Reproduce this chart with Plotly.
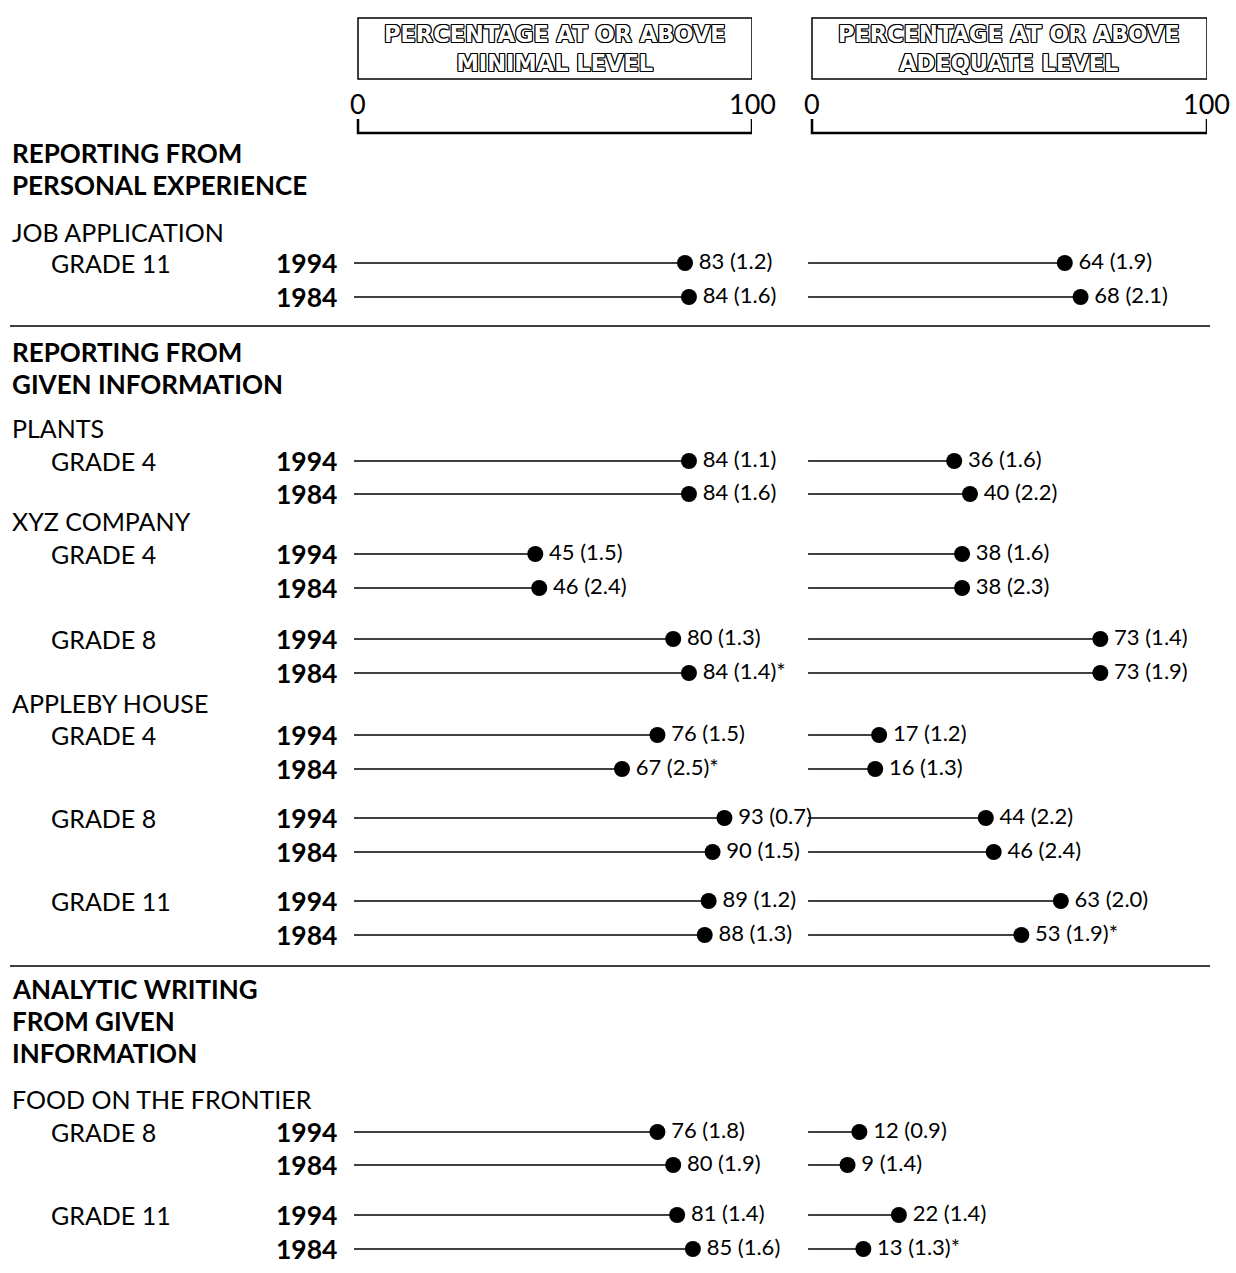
import plotly.graph_objects as go

# ---- data -------------------------------------------------------------
sections = [["REPORTING FROM", "PERSONAL EXPERIENCE"],
            ["REPORTING FROM", "GIVEN INFORMATION"],
            ["ANALYTIC WRITING", "FROM GIVEN", "INFORMATION"]]
tasks = ["JOB APPLICATION", "PLANTS", "XYZ COMPANY", "APPLEBY HOUSE",
         "FOOD ON THE FRONTIER"]
grades = ["GRADE 11", "GRADE 4", "GRADE 4", "GRADE 8", "GRADE 4", "GRADE 8",
          "GRADE 11", "GRADE 8", "GRADE 11"]
years = ["1994", "1984"] * 9

minimal = [83, 84, 84, 84, 45, 46, 80, 84, 76, 67, 93, 90, 89, 88, 76, 80, 81, 85]
minimal_se = [1.2, 1.6, 1.1, 1.6, 1.5, 2.4, 1.3, 1.4, 1.5, 2.5, 0.7, 1.5, 1.2, 1.3,
              1.8, 1.9, 1.4, 1.6]
minimal_sig = [0, 0, 0, 0, 0, 0, 0, 1, 0, 1, 0, 0, 0, 0, 0, 0, 0, 0]

adequate = [64, 68, 36, 40, 38, 38, 73, 73, 17, 16, 44, 46, 63, 53, 12, 9, 22, 13]
adequate_se = [1.9, 2.1, 1.6, 2.2, 1.6, 2.3, 1.4, 1.9, 1.2, 1.3, 2.2, 2.4, 2.0, 1.9,
               0.9, 1.4, 1.4, 1.3]
adequate_sig = [0, 0, 0, 0, 0, 0, 0, 0, 0, 0, 0, 0, 0, 1, 0, 0, 0, 1]

panel_titles = ["PERCENTAGE AT OR ABOVE<br>MINIMAL LEVEL",
                "PERCENTAGE AT OR ABOVE<br>ADEQUATE LEVEL"]
scale_ticks = [0, 100]

# ---- page layout (pixel rows, y measured downwards) ------------------
W, H = 1236, 1273
row_y = [263, 297, 461, 494, 554, 588, 639, 673, 735, 769, 818, 852, 901, 935,
         1132, 1165, 1215, 1249]
section_top = [153, 352, 989]
section_step = 32
task_y = [232, 428, 521, 703, 1099]
grade_y = [row_y[i] for i in range(0, 18, 2)]
separator_y = [326, 966]

FONT = "Lato"
BLACK = "#000000"
PAD = 1.0  # stems start slightly left of the zero mark


def px(x):
    return x / W


def value_text(v, se, sig):
    return f"\u2009{v} ({se}){'*' if sig else ''}"


fig = go.Figure()

for xa, vals, ses, sigs in [("x", minimal, minimal_se, minimal_sig),
                            ("x2", adequate, adequate_se, adequate_sig)]:
    lx, ly = [], []
    for v, y in zip(vals, row_y):
        lx += [-PAD, v, None]
        ly += [y, y, None]
    fig.add_trace(go.Scatter(x=lx, y=ly, xaxis=xa, yaxis="y", mode="lines",
                             line=dict(color=BLACK, width=1.6),
                             hoverinfo="skip", showlegend=False))
    fig.add_trace(go.Scatter(
        x=vals, y=row_y, xaxis=xa, yaxis="y", mode="markers+text",
        marker=dict(color=BLACK, size=16),
        text=[value_text(v, s, g) for v, s, g in zip(vals, ses, sigs)],
        textposition="middle right",
        textfont=dict(family=FONT, size=22, color=BLACK),
        cliponaxis=False,
        showlegend=False))

annotations = []
shapes = []

# panel headers, scale labels and brackets
outline = ("1px 0 0 #000, -1px 0 0 #000, 0 1px 0 #000, 0 -1px 0 #000, "
           "1px 1px 0 #000, -1px -1px 0 #000, 1px -1px 0 #000, -1px 1px 0 #000")
for xa, title in zip(["x", "x2"], panel_titles):
    shapes.append(dict(type="rect", xref=xa, yref="y", x0=0, x1=100, y0=18, y1=79,
                       line=dict(color=BLACK, width=1.5)))
    annotations.append(dict(xref=xa, yref="y", x=50, y=48, text=title,
                            showarrow=False, align="center",
                            font=dict(family="DejaVu Sans", size=22.5, color="white",
                                      weight="bold", shadow=outline)))
    for t in scale_ticks:
        annotations.append(dict(xref=xa, yref="y", x=t, y=103, text=str(t),
                                showarrow=False,
                                font=dict(family=FONT, size=27, color=BLACK)))
    shapes.append(dict(type="path", xref=xa, yref="y",
                       path=f"M {scale_ticks[0]},119 L {scale_ticks[0]},133 "
                            f"L {scale_ticks[1]},133 L {scale_ticks[1]},119",
                       line=dict(color=BLACK, width=2.5)))

# left-hand labels
for lines, y0 in zip(sections, section_top):
    for i, text in enumerate(lines):
        annotations.append(dict(xref="paper", yref="y", x=px(10),
                                y=y0 + i * section_step, text=text,
                                xanchor="left", showarrow=False,
                                font=dict(family=FONT, size=26, color=BLACK,
                                          weight="bold")))
for text, y in zip(tasks, task_y):
    annotations.append(dict(xref="paper", yref="y", x=px(10), y=y, text=text,
                            xanchor="left", showarrow=False,
                            font=dict(family=FONT, size=25, color=BLACK)))
for text, y in zip(grades, grade_y):
    annotations.append(dict(xref="paper", yref="y", x=px(49), y=y, text=text,
                            xanchor="left", showarrow=False,
                            font=dict(family=FONT, size=25, color=BLACK)))
for text, y in zip(years, row_y):
    annotations.append(dict(xref="paper", yref="y", x=px(339), y=y, text=text,
                            xanchor="right", showarrow=False,
                            font=dict(family=FONT, size=26.5, color=BLACK,
                                      weight="bold")))

for y in separator_y:
    shapes.append(dict(type="line", xref="paper", yref="y", x0=px(10), x1=px(1210),
                       y0=y, y1=y, line=dict(color=BLACK, width=1.5)))

# x scales: 0..100 mapped onto the bracketed spans, with a little room at the left
unit_l = (752 - 358) / 100
unit_r = (1207 - 812) / 100
fig.update_layout(
    width=W, height=H,
    margin=dict(l=0, r=0, t=0, b=0),
    paper_bgcolor="white", plot_bgcolor="white",
    xaxis=dict(visible=False, range=[-PAD, 100], fixedrange=True,
               domain=[px(358 - PAD * unit_l), px(752)]),
    xaxis2=dict(visible=False, range=[-PAD, 100], fixedrange=True,
                domain=[px(812 - PAD * unit_r), px(1207)]),
    yaxis=dict(visible=False, range=[H, 0], domain=[0, 1], fixedrange=True),
    annotations=annotations, shapes=shapes,
    showlegend=False,
)

fig.write_html("out.html", config={"displayModeBar": False})
